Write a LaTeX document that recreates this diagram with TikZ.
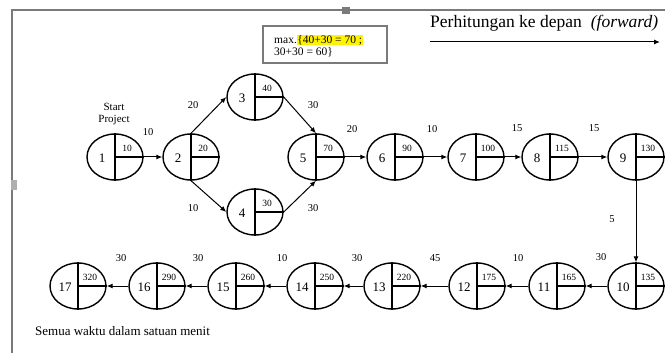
\documentclass[tikz,border=0pt]{standalone}
\usepackage{fontspec}
\setmainfont{Liberation Serif}
\usetikzlibrary{shapes.geometric,arrows.meta,calc}

\definecolor{framegray}{HTML}{7A7A7A}
\definecolor{hl}{HTML}{FFF200}

\tikzset{
  ev/.style={draw, ellipse, line width=1.4pt, minimum width=56pt, minimum height=46pt, inner sep=0pt},
  divl/.style={line width=1.4pt},
  num/.style={font=\fontsize{13}{13}\selectfont, inner sep=0pt},
  val/.style={font=\fontsize{9.5}{9.5}\selectfont, inner sep=0pt},
  lbl/.style={font=\fontsize{10.5}{10.5}\selectfont, inner sep=0pt},
  arr/.style={-{Latex[length=6pt,width=5pt]}, line width=1pt},
  framel/.style={draw=framegray, line width=2pt},
}

% event node: id, x, y, earliest time
\newcommand{\evt}[4]{%
  \node[ev] (n#1) at (#2,#3) {};
  \draw[divl] (n#1.north) -- (n#1.south) (n#1.center) -- (n#1.east);
  \node[num] (t#1) at ($(n#1.center)+(-13,1)$) {#1};
  \node[val] (v#1) at ($(n#1.center)+(12,-9)$) {#4};
}

\begin{document}
\begin{tikzpicture}[x=1pt,y=-1pt]
\useasboundingbox (0,0) rectangle (665,353);
\fill[white] (0,0) rectangle (665,353);

% page frame
\draw[framel] (12,353) -- (12,10) -- (665,10);
\fill[framegray] (342,7) rectangle (350,14);
\fill[framegray!60] (11,180) rectangle (17,190);

% events
\evt{1}{115}{157}{10}
\evt{2}{191}{157}{20}
\evt{3}{255}{97}{40}
\evt{4}{255}{212}{30}
\evt{5}{316}{157}{70}
\evt{6}{395}{157}{90}
\evt{7}{476}{157}{100}
\evt{8}{550}{157}{115}
\evt{9}{636}{157}{130}
\evt{10}{636}{286}{135}
\evt{11}{557}{286}{165}
\evt{12}{477}{286}{175}
\evt{13}{392}{286}{220}
\evt{14}{315}{286}{250}
\evt{15}{236}{286}{260}
\evt{16}{157}{286}{290}
\evt{17}{78}{286}{320}

% activities
\draw[arr] (n1.east) -- (n2.west);
\draw[arr] (n2.north) -- (n3.west);
\draw[arr] (n2.south) -- (n4.west);
\draw[arr] (n3.east) -- (n5.north);
\draw[arr] (n4.east) -- (n5.south);
\draw[arr] (n5.east) -- (n6.west);
\draw[arr] (n6.east) -- (n7.west);
\draw[arr] (n7.east) -- (n8.west);
\draw[arr] (n8.east) -- (n9.west);
\draw[arr] (n9.south) -- (n10.north);
\draw[arr] (n10.west) -- (n11.east);
\draw[arr] (n11.west) -- (n12.east);
\draw[arr] (n12.west) -- (n13.east);
\draw[arr] (n13.west) -- (n14.east);
\draw[arr] (n14.west) -- (n15.east);
\draw[arr] (n15.west) -- (n16.east);
\draw[arr] (n16.west) -- (n17.east);

% durations
\node[lbl] (d12) at (148,132) {10};
\node[lbl] (d23) at (193,105) {20};
\node[lbl] (d24) at (193,208) {10};
\node[lbl] (d35) at (313,105) {30};
\node[lbl] (d45) at (313,208) {30};
\node[lbl] (d56) at (352,129) {20};
\node[lbl] (d67) at (432,129) {10};
\node[lbl] (d78) at (517,128) {15};
\node[lbl] (d89) at (594,128) {15};
\node[lbl] (d910) at (612,219) {5};
\node[lbl] (d1011) at (601,257) {30};
\node[lbl] (d1112) at (518,258) {10};
\node[lbl] (d1213) at (435,258) {45};
\node[lbl] (d1314) at (357,258) {30};
\node[lbl] (d1415) at (282,258) {10};
\node[lbl] (d1516) at (198,258) {30};
\node[lbl] (d1617) at (121,258) {30};

% start label
\node[lbl, align=center, font=\fontsize{11}{12}\selectfont] (start) at (114,114) {Start\\Project};

% merge note
\node[draw=framegray, line width=1.4pt, minimum width=124pt, minimum height=37pt, inner sep=0pt] (note) at (325,44.5) {};
\node[anchor=west, inner sep=0pt, font=\fontsize{11.5}{12.5}\selectfont, align=left] (notetxt) at (274,46)
  {max.{\setlength{\fboxsep}{0.5pt}\colorbox{hl}{\{40+30 = 70 ;}}\\30+30 = 60\}};

% direction heading
\node[anchor=base west, inner sep=0pt, font=\fontsize{17.5}{18}\selectfont] (head) at (430,28) {Perhitungan ke depan\hspace{9pt}\textit{(forward)}};
\coordinate (fa) at (430,42);
\coordinate (fb) at (660,42);
\draw[arr] (fa) -- (fb);

% units
\node[anchor=base west, inner sep=0pt, font=\fontsize{13}{13}\selectfont] (units) at (35,335) {Semua waktu dalam satuan menit};
\end{tikzpicture}
\end{document}
